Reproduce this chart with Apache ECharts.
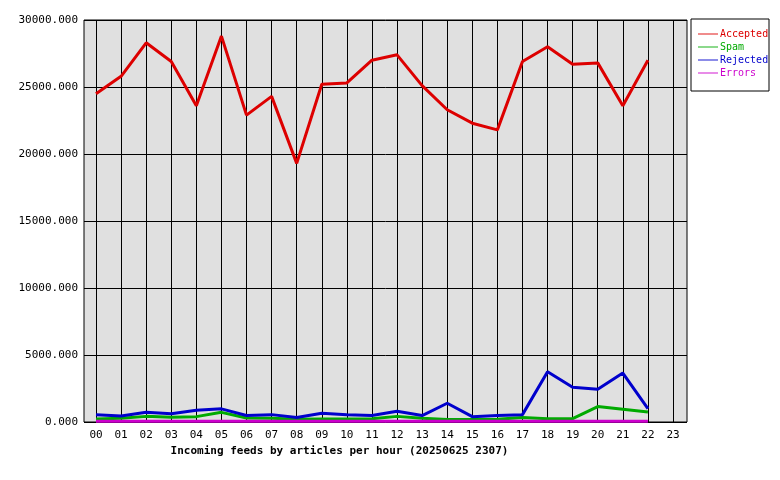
<!DOCTYPE html><html><head><meta charset="utf-8"><script src="https://cdn.jsdelivr.net/npm/echarts@6/dist/echarts.min.js"></script></head><body style="margin:0;background:#fff"><div id="c" style="width:780px;height:480px"></div><script>
const hours=['00','01','02','03','04','05','06','07','08','09','10','11','12','13','14','15','16','17','18','19','20','21','22','23'];
const accepted=[24500,25800,28300,26900,23600,28800,22900,24300,19300,25200,25300,27000,27400,25100,23300,22300,21800,26900,28000,26700,26800,23600,27000];
const spam=[220,280,420,350,400,720,300,280,200,220,220,250,420,280,180,180,200,330,250,250,1150,950,750];
const rejected=[550,450,720,620,870,980,480,550,330,650,550,480,800,480,1400,400,480,550,3750,2600,2450,3650,1000];
const errors=[50,50,50,50,50,50,50,50,50,50,50,50,50,50,50,50,50,50,50,50,50,50,50];
const names=['Accepted','Spam','Rejected','Errors'];
const colors=['#dd0000','#00aa00','#0000cc','#cc00cc'];
const font='DejaVu Sans Mono';
const ch=echarts.init(document.getElementById('c'));
const mk=(n,d,c)=>({name:n,type:'line',data:d,xAxisIndex:1,yAxisIndex:1,symbol:'none',lineStyle:{color:c,width:3},itemStyle:{color:c},z:10});
ch.setOption({animation:false,
 textStyle:{fontFamily:font},
 graphic:[{type:'rect',shape:{x:691,y:19,width:78,height:72},style:{fill:'#fff',stroke:'#000',lineWidth:1},z:-5}],
 grid:[{left:84,right:93,top:20,bottom:58,show:true,backgroundColor:'#e0e0e0',borderColor:'#000',borderWidth:1},
       {left:96,right:107,top:20,bottom:58}],
 legend:{orient:'vertical',left:693,top:24,itemGap:3,itemWidth:20,itemHeight:8,icon:'path://M0,4L22,4L22,5L0,5Z',textStyle:{fontFamily:font,fontSize:10,padding:[0,0,0,-3]},data:names.map((n,i)=>({name:n,textStyle:{color:colors[i]}}))},
 xAxis:[{type:'value',gridIndex:0,min:0,max:1,show:false},
  {type:'category',gridIndex:1,data:hours,boundaryGap:false,name:'Incoming feeds by articles per hour (20250625 2307)',nameLocation:'middle',nameGap:23,nameTextStyle:{fontFamily:font,fontSize:11,fontWeight:'bold',color:'#000',padding:[0,90,0,0]},
  axisLine:{show:false},axisTick:{show:false},axisLabel:{color:'#000',fontSize:11,fontFamily:font,interval:0,margin:8},splitLine:{show:true,lineStyle:{color:'#000'}}}],
 yAxis:[{type:'value',gridIndex:0,min:0,max:30000,interval:5000,axisLine:{show:false},axisTick:{show:false},
  axisLabel:{color:'#000',fontSize:11,fontFamily:font,formatter:v=>v.toFixed(3),margin:6},splitLine:{lineStyle:{color:'#000'}}},
  {type:'value',gridIndex:1,min:0,max:30000,show:false,splitLine:{show:false}}],
 series:[mk('Accepted',accepted,colors[0]),mk('Spam',spam,colors[1]),mk('Rejected',rejected,colors[2]),mk('Errors',errors,colors[3])]
});
</script></body></html>
